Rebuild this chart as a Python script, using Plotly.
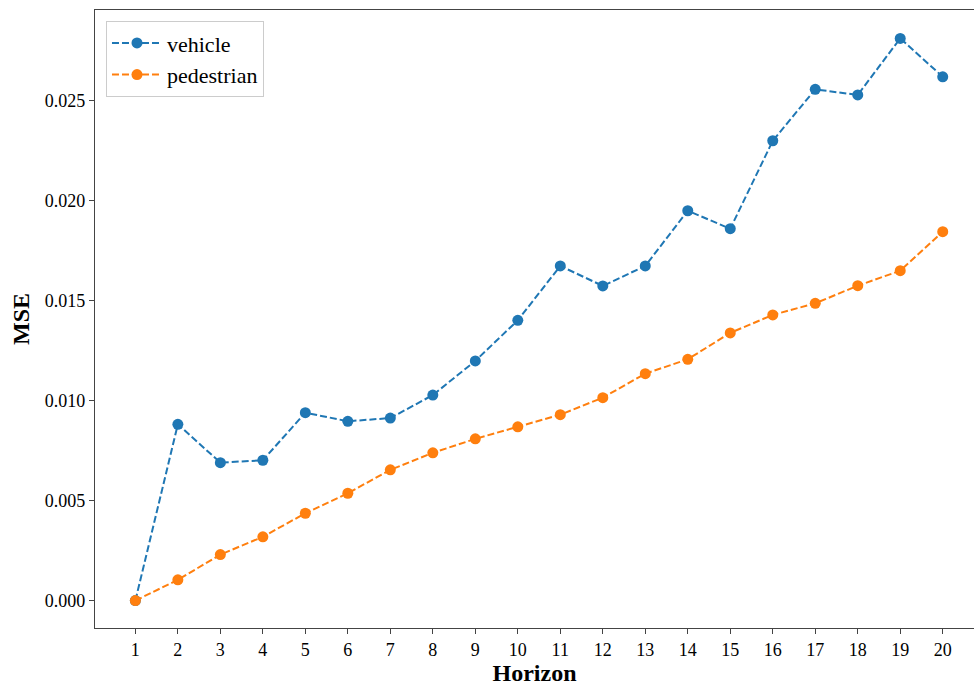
import plotly.graph_objects as go

horizon = list(range(1, 21))
vehicle = [0.0, 0.00882, 0.0069, 0.00702, 0.0094, 0.00897, 0.00913, 0.01028, 0.01199, 0.01402,
           0.01674, 0.01574, 0.01674, 0.0195, 0.0186, 0.0230, 0.02557, 0.02529, 0.02812, 0.0262]
pedestrian = [0.0, 0.00104, 0.0023, 0.00319, 0.00437, 0.00537, 0.00654, 0.00739, 0.00809, 0.00869,
              0.0093, 0.01015, 0.01135, 0.01207, 0.01339, 0.01429, 0.01487, 0.01575, 0.0165, 0.01845]
y_ticks = [0.000, 0.005, 0.010, 0.015, 0.020, 0.025]

font = "Liberation Serif, Times New Roman, serif"

fig = go.Figure()
fig.add_trace(go.Scatter(x=horizon, y=vehicle, name="vehicle", mode="lines+markers",
                         line=dict(color="#1f77b4", width=2, dash="7px,3px"),
                         marker=dict(color="#1f77b4", size=11)))
fig.add_trace(go.Scatter(x=horizon, y=pedestrian, name="pedestrian", mode="lines+markers",
                         line=dict(color="#ff7f0e", width=2, dash="7px,3px"),
                         marker=dict(color="#ff7f0e", size=11)))

fig.update_layout(
    width=974, height=686,
    margin=dict(l=95, r=0, t=10, b=58),
    paper_bgcolor="white", plot_bgcolor="white",
    font=dict(family=font, size=18, color="black"),
    showlegend=True,
    legend=dict(x=0.0125, y=0.982, xanchor="left", yanchor="top",
                bordercolor="#cccccc", borderwidth=1, bgcolor="rgba(255,255,255,0.8)",
                font=dict(family=font, size=22), itemwidth=50),
    xaxis=dict(range=[0.05, 20.736], tickmode="array", tickvals=horizon,
               ticktext=[str(h) for h in horizon],
               showgrid=False, zeroline=False, showline=True, linecolor="#444444", linewidth=1.3,
               mirror=True, ticks="outside", ticklen=5, tickcolor="#444444",
               tickfont=dict(family=font, size=18),
               title=dict(text="<b>Horizon</b>", font=dict(family=font, size=24), standoff=6)),
    yaxis=dict(range=[-0.00137, 0.02954], tickmode="array", tickvals=y_ticks,
               ticktext=[f"{v:.3f}" for v in y_ticks],
               showgrid=False, zeroline=False, showline=True, linecolor="#444444", linewidth=1.3,
               ticks="outside", ticklen=5, tickcolor="#444444",
               tickfont=dict(family=font, size=18),
               title=dict(text="<b>MSE</b>", font=dict(family=font, size=24), standoff=8)),
)

fig.write_html("out.html")
